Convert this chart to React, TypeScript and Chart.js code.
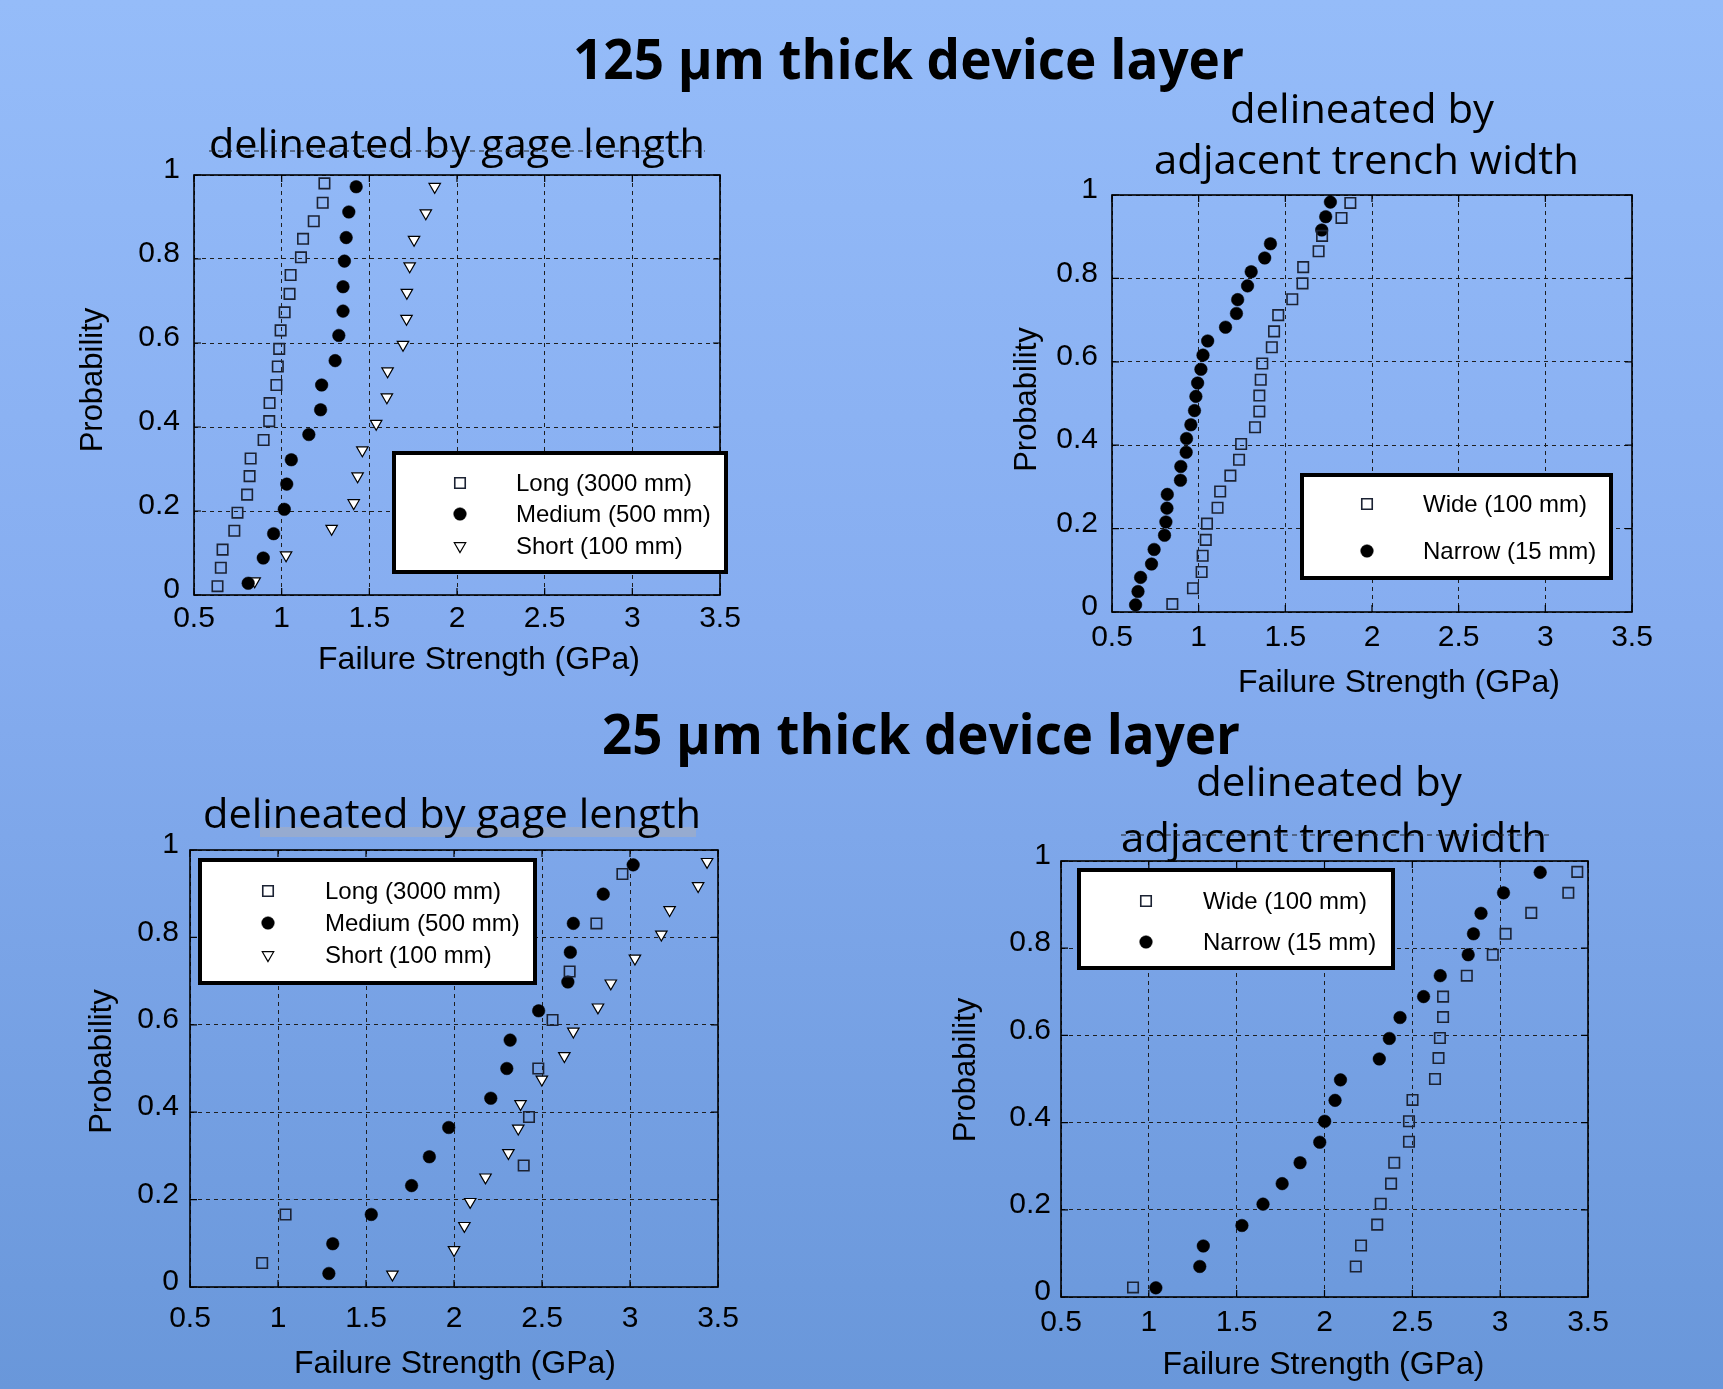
import React, { useEffect, useRef } from 'react';
import { Chart, registerables } from 'chart.js';

Chart.register(...registerables);

const AXIS_FONT = '"Liberation Sans", Arial, Helvetica, sans-serif';
const TITLE_FONT = '"Open Sans", "Noto Sans", sans-serif';

// ---------- tick labels & axis titles ----------
const xTickLabels = ['0.5', '1', '1.5', '2', '2.5', '3', '3.5'];
const yTickLabels = ['0', '0.2', '0.4', '0.6', '0.8', '1'];
const xAxisTitle = 'Failure Strength (GPa)';
const yAxisTitle = 'Probability';

// ---------- 125 um, by gage length ----------
const p1LongX = [1.244, 1.234, 1.183, 1.122, 1.110, 1.051, 1.045, 1.017, 0.994, 0.986, 0.978, 0.970, 0.931, 0.929, 0.897, 0.823, 0.817, 0.803, 0.748, 0.730, 0.663, 0.653, 0.634];
const p1LongY = [0.980, 0.934, 0.890, 0.848, 0.804, 0.762, 0.717, 0.673, 0.630, 0.586, 0.544, 0.500, 0.457, 0.414, 0.369, 0.325, 0.283, 0.239, 0.196, 0.153, 0.108, 0.065, 0.021];
const p1MediumX = [1.425, 1.383, 1.368, 1.358, 1.350, 1.350, 1.326, 1.305, 1.228, 1.222, 1.155, 1.055, 1.029, 1.015, 0.954, 0.895, 0.809];
const p1MediumY = [0.972, 0.912, 0.851, 0.795, 0.734, 0.676, 0.618, 0.558, 0.500, 0.441, 0.382, 0.322, 0.264, 0.204, 0.146, 0.088, 0.028];
const p1ShortX = [1.873, 1.822, 1.755, 1.730, 1.714, 1.712, 1.692, 1.604, 1.600, 1.539, 1.460, 1.433, 1.411, 1.285, 1.025, 0.846];
const p1ShortY = [0.972, 0.909, 0.846, 0.783, 0.720, 0.658, 0.596, 0.533, 0.471, 0.408, 0.345, 0.283, 0.219, 0.158, 0.095, 0.033];

// ---------- 125 um, by trench width ----------
const p2WideX = [1.875, 1.824, 1.712, 1.692, 1.603, 1.599, 1.540, 1.459, 1.435, 1.422, 1.367, 1.358, 1.350, 1.350, 1.325, 1.245, 1.233, 1.183, 1.124, 1.109, 1.048, 1.041, 1.023, 1.017, 0.967, 0.848];
const p2WideY = [0.981, 0.945, 0.902, 0.865, 0.827, 0.788, 0.750, 0.712, 0.673, 0.635, 0.596, 0.557, 0.519, 0.481, 0.443, 0.403, 0.365, 0.327, 0.289, 0.250, 0.212, 0.173, 0.135, 0.096, 0.057, 0.019];
const p2NarrowX = [1.760, 1.733, 1.710, 1.414, 1.381, 1.303, 1.282, 1.225, 1.218, 1.155, 1.052, 1.025, 1.013, 0.994, 0.984, 0.976, 0.955, 0.930, 0.928, 0.897, 0.895, 0.819, 0.817, 0.811, 0.803, 0.743, 0.728, 0.665, 0.650, 0.636];
const p2NarrowY = [0.983, 0.948, 0.916, 0.883, 0.849, 0.816, 0.782, 0.749, 0.716, 0.683, 0.650, 0.616, 0.582, 0.549, 0.517, 0.483, 0.449, 0.416, 0.383, 0.349, 0.316, 0.282, 0.249, 0.216, 0.184, 0.150, 0.115, 0.083, 0.049, 0.017];

// ---------- 25 um, by gage length ----------
const p3LongX = [2.957, 2.809, 2.657, 2.560, 2.479, 2.426, 2.396, 1.043, 0.910];
const p3LongY = [0.945, 0.832, 0.722, 0.611, 0.500, 0.389, 0.278, 0.166, 0.055];
const p3MediumX = [3.018, 2.848, 2.678, 2.661, 2.647, 2.481, 2.319, 2.300, 2.209, 1.970, 1.860, 1.759, 1.530, 1.311, 1.289];
const p3MediumY = [0.966, 0.899, 0.832, 0.766, 0.698, 0.632, 0.565, 0.500, 0.432, 0.365, 0.298, 0.232, 0.166, 0.099, 0.031];
const p3ShortX = [3.438, 3.387, 3.225, 3.178, 3.028, 2.891, 2.818, 2.678, 2.627, 2.499, 2.378, 2.365, 2.309, 2.179, 2.092, 2.059, 2.000, 1.650];
const p3ShortY = [0.973, 0.918, 0.863, 0.807, 0.752, 0.695, 0.640, 0.585, 0.529, 0.475, 0.419, 0.363, 0.307, 0.251, 0.195, 0.140, 0.085, 0.029];

// ---------- 25 um, by trench width ----------
const p4WideX = [3.439, 3.388, 3.177, 3.031, 2.958, 2.810, 2.675, 2.675, 2.657, 2.649, 2.629, 2.501, 2.481, 2.481, 2.397, 2.379, 2.320, 2.300, 2.208, 2.178, 0.910];
const p4WideY = [0.975, 0.927, 0.881, 0.833, 0.785, 0.737, 0.689, 0.642, 0.594, 0.548, 0.500, 0.452, 0.403, 0.356, 0.308, 0.260, 0.214, 0.166, 0.118, 0.070, 0.022];
const p4NarrowX = [3.228, 3.019, 2.891, 2.848, 2.818, 2.659, 2.564, 2.430, 2.369, 2.312, 2.091, 2.060, 2.001, 1.973, 1.861, 1.759, 1.650, 1.530, 1.310, 1.290, 1.040];
const p4NarrowY = [0.974, 0.927, 0.880, 0.833, 0.785, 0.737, 0.689, 0.641, 0.593, 0.546, 0.498, 0.451, 0.403, 0.355, 0.308, 0.260, 0.213, 0.164, 0.117, 0.070, 0.021];

// ---------- labels ----------
const gageLabels = ['Long (3000 mm)', 'Medium (500 mm)', 'Short (100 mm)'];
const trenchLabels = ['Wide (100 mm)', 'Narrow (15 mm)'];

type Kind = 'square' | 'circle' | 'triangle';
interface SeriesDef { label: string; kind: Kind; xs: number[]; ys: number[] }

const MARK: Record<Kind, any> = {
  square: { pointStyle: 'rect', pointRadius: 7.4, pointBackgroundColor: 'rgba(0,0,0,0)', pointBorderColor: '#1b2233', pointBorderWidth: 1.6, pointRotation: 0 },
  circle: { pointStyle: 'circle', pointRadius: 6.3, pointBackgroundColor: '#000', pointBorderColor: '#000', pointBorderWidth: 0.5, pointRotation: 0 },
  triangle: { pointStyle: 'triangle', pointRadius: 6.6, pointBackgroundColor: '#fff', pointBorderColor: '#000', pointBorderWidth: 1.2, pointRotation: 180 },
};

interface Geom {
  L: number; T: number; R: number; B: number;
  padL: number; padT: number; padR: number; padB: number;
  yTitleCenter: number; yTitleDy: number; xTitleMiddle: number; xTitleDx: number;
  xTickPad: number; yTickPad: number;
  legend: { x: number; y: number; w: number; h: number; markerX: number; textX: number; rows: number[] };
}

interface PanelDef { id: string; series: SeriesDef[]; geom: Geom }

const panels: PanelDef[] = [
  {
    id: 'p1',
    series: [
      { label: gageLabels[0], kind: 'square', xs: p1LongX, ys: p1LongY },
      { label: gageLabels[1], kind: 'circle', xs: p1MediumX, ys: p1MediumY },
      { label: gageLabels[2], kind: 'triangle', xs: p1ShortX, ys: p1ShortY },
    ],
    geom: {
      L: 194, T: 173, R: 720, B: 595, padL: 120, padT: 30, padR: 40, padB: 100,
      yTitleCenter: 93.5, yTitleDy: -5, xTitleMiddle: 660, xTitleDx: 22, xTickPad: 6, yTickPad: 14,
      legend: { x: 394, y: 453, w: 332, h: 119, markerX: 460, textX: 516, rows: [483, 514, 546] },
    },
  },
  {
    id: 'p2',
    series: [
      { label: trenchLabels[0], kind: 'square', xs: p2WideX, ys: p2WideY },
      { label: trenchLabels[1], kind: 'circle', xs: p2NarrowX, ys: p2NarrowY },
    ],
    geom: {
      L: 1112, T: 193, R: 1632, B: 612, padL: 120, padT: 30, padR: 40, padB: 100,
      yTitleCenter: 1027, yTitleDy: -4, xTitleMiddle: 683, xTitleDx: 27, xTickPad: 8, yTickPad: 14,
      legend: { x: 1302, y: 475, w: 309, h: 103, markerX: 1367, textX: 1423, rows: [504, 551] },
    },
  },
  {
    id: 'p3',
    series: [
      { label: gageLabels[0], kind: 'square', xs: p3LongX, ys: p3LongY },
      { label: gageLabels[1], kind: 'circle', xs: p3MediumX, ys: p3MediumY },
      { label: gageLabels[2], kind: 'triangle', xs: p3ShortX, ys: p3ShortY },
    ],
    geom: {
      L: 190, T: 850, R: 718, B: 1287, padL: 120, padT: 30, padR: 40, padB: 100,
      yTitleCenter: 102, yTitleDy: -7, xTitleMiddle: 1364, xTitleDx: 1, xTickPad: 14, yTickPad: 11,
      legend: { x: 200, y: 860, w: 335, h: 123, markerX: 268, textX: 325, rows: [891, 923, 955] },
    },
  },
  {
    id: 'p4',
    series: [
      { label: trenchLabels[0], kind: 'square', xs: p4WideX, ys: p4WideY },
      { label: trenchLabels[1], kind: 'circle', xs: p4NarrowX, ys: p4NarrowY },
    ],
    geom: {
      L: 1061, T: 861, R: 1588, B: 1297, padL: 120, padT: 30, padR: 40, padB: 92,
      yTitleCenter: 966, yTitleDy: -9, xTitleMiddle: 1365, xTitleDx: -1, xTickPad: 8, yTickPad: 10,
      legend: { x: 1079, y: 870, w: 314, h: 98, markerX: 1146, textX: 1203, rows: [901, 942] },
    },
  },
];

function drawMarker(ctx: CanvasRenderingContext2D, kind: Kind, x: number, y: number) {
  const m = MARK[kind];
  const r = m.pointRadius;
  ctx.save();
  ctx.setLineDash([]);
  ctx.lineWidth = m.pointBorderWidth;
  ctx.strokeStyle = m.pointBorderColor;
  ctx.fillStyle = m.pointBackgroundColor;
  ctx.beginPath();
  if (kind === 'square') {
    const s = r * Math.SQRT1_2;
    ctx.rect(x - s, y - s, 2 * s, 2 * s);
  } else if (kind === 'circle') {
    ctx.arc(x, y, r, 0, Math.PI * 2);
  } else {
    const h = Math.sin(Math.PI / 3) * r;
    ctx.moveTo(x, y + r);
    ctx.lineTo(x - h, y - r / 2);
    ctx.lineTo(x + h, y - r / 2);
    ctx.closePath();
  }
  ctx.fill();
  ctx.stroke();
  ctx.restore();
}

const framePlugin = {
  id: 'frameTicks',
  beforeDatasetsDraw(chart: any) {
    const { ctx, chartArea: a, scales } = chart;
    ctx.save();
    ctx.setLineDash([]);
    ctx.strokeStyle = '#000';
    ctx.lineWidth = 1.2;
    const tl = 7;
    ctx.beginPath();
    scales.x.ticks.forEach((t: any) => {
      const px = scales.x.getPixelForValue(t.value);
      ctx.moveTo(px, a.top); ctx.lineTo(px, a.top + tl);
      ctx.moveTo(px, a.bottom); ctx.lineTo(px, a.bottom - tl);
    });
    scales.y.ticks.forEach((t: any) => {
      const py = scales.y.getPixelForValue(t.value);
      ctx.moveTo(a.left, py); ctx.lineTo(a.left + tl, py);
      ctx.moveTo(a.right, py); ctx.lineTo(a.right - tl, py);
    });
    ctx.stroke();
    ctx.lineWidth = 1.6;
    ctx.strokeRect(a.left, a.top, a.right - a.left, a.bottom - a.top);
    ctx.restore();
  },
};

function makeAxisTitlePlugin(panel: PanelDef, offX: number, offY: number) {
  const g = panel.geom;
  return {
    id: 'axisTitles',
    afterDraw(chart: any) {
      const ctx: CanvasRenderingContext2D = chart.ctx;
      const a = chart.chartArea;
      ctx.save();
      ctx.fillStyle = '#000';
      ctx.textAlign = 'center';
      ctx.textBaseline = 'middle';
      ctx.font = `32px ${AXIS_FONT}`;
      ctx.fillText(xAxisTitle, (a.left + a.right) / 2 + g.xTitleDx, g.xTitleMiddle - offY);
      ctx.translate(g.yTitleCenter - offX, (a.top + a.bottom) / 2 + g.yTitleDy);
      ctx.rotate(-Math.PI / 2);
      ctx.font = `31px ${AXIS_FONT}`;
      ctx.fillText(yAxisTitle, 0, 0);
      ctx.restore();
    },
  };
}

function makeLegendPlugin(panel: PanelDef, offX: number, offY: number) {
  return {
    id: 'boxLegend',
    afterDraw(chart: any) {
      const ctx: CanvasRenderingContext2D = chart.ctx;
      const lg = panel.geom.legend;
      ctx.save();
      ctx.setLineDash([]);
      ctx.fillStyle = '#fff';
      ctx.fillRect(lg.x - offX, lg.y - offY, lg.w, lg.h);
      ctx.lineWidth = 4;
      ctx.strokeStyle = '#000';
      ctx.strokeRect(lg.x - offX, lg.y - offY, lg.w, lg.h);
      panel.series.forEach((s, i) => {
        const y = lg.rows[i] - offY;
        drawMarker(ctx, s.kind, lg.markerX - offX, y);
        ctx.fillStyle = '#000';
        ctx.font = `24px ${AXIS_FONT}`;
        ctx.textAlign = 'left';
        ctx.textBaseline = 'middle';
        ctx.fillText(s.label, lg.textX - offX, y + 1);
      });
      ctx.restore();
    },
  };
}

function Panel({ panel }: { panel: PanelDef }) {
  const ref = useRef<HTMLCanvasElement | null>(null);
  const g = panel.geom;
  const left = g.L - g.padL;
  const top = g.T - g.padT;
  const width = g.padL + (g.R - g.L) + g.padR;
  const height = g.padT + (g.B - g.T) + g.padB;

  useEffect(() => {
    if (!ref.current) return;
    const chart = new Chart(ref.current, {
      type: 'scatter',
      data: {
        datasets: panel.series.map((s) => ({
          label: s.label,
          data: s.xs.map((x, i) => ({ x, y: s.ys[i] })),
          showLine: false,
          ...MARK[s.kind],
          pointHoverRadius: MARK[s.kind].pointRadius,
        })),
      },
      options: {
        responsive: false,
        animation: false,
        events: [],
        layout: { padding: { left: 0, top: g.padT, right: g.padR, bottom: 0 } },
        plugins: { legend: { display: false }, tooltip: { enabled: false }, title: { display: false } },
        scales: {
          x: {
            type: 'linear',
            min: 0.5,
            max: 3.5,
            afterFit: (s: any) => { s.height = g.padB; },
            afterBuildTicks: (s: any) => { s.ticks = xTickLabels.map((t) => ({ value: parseFloat(t) })); },
            ticks: {
              callback: (_v: any, i: number) => xTickLabels[i],
              color: '#000',
              font: { family: AXIS_FONT, size: 30 },
              padding: g.xTickPad,
              maxRotation: 0,
              autoSkip: false,
            },
            grid: { color: '#1e1e1e', lineWidth: 1, drawTicks: false },
            border: { display: false, dash: [4, 4] },
            title: { display: false },
          },
          y: {
            type: 'linear',
            min: 0,
            max: 1,
            afterFit: (s: any) => { s.width = g.padL; },
            afterBuildTicks: (s: any) => { s.ticks = yTickLabels.map((t) => ({ value: parseFloat(t) })); },
            ticks: {
              callback: (_v: any, i: number) => yTickLabels[i],
              color: '#000',
              font: { family: AXIS_FONT, size: 30 },
              padding: g.yTickPad,
              labelOffset: -5,
              autoSkip: false,
            },
            grid: { color: '#1e1e1e', lineWidth: 1, drawTicks: false },
            border: { display: false, dash: [4, 4] },
            title: { display: false },
          },
        },
      } as any,
      plugins: [framePlugin, makeAxisTitlePlugin(panel, left, top), makeLegendPlugin(panel, left, top)],
    });
    return () => chart.destroy();
  }, []);

  return (
    <canvas
      ref={ref}
      width={width}
      height={height}
      style={{ position: 'absolute', left, top, width, height }}
    />
  );
}

// ---------- titles ----------
const mainTitles = [
  { text: '125 µm thick device layer', x: 573, y: 79, len: 671 },
  { text: '25 µm thick device layer', x: 602, y: 754, len: 638 },
];
const subTitles = [
  { text: 'delineated by gage length', x: 209, y: 158, len: 496 },
  { text: 'delineated by', x: 1230, y: 123, len: 264 },
  { text: 'adjacent trench width', x: 1154, y: 174, len: 425 },
  { text: 'delineated by gage length', x: 203, y: 828, len: 498 },
  { text: 'delineated by', x: 1196, y: 796, len: 266 },
  { text: 'adjacent trench width', x: 1121, y: 852, len: 426 },
];

export default function App() {
  useEffect(() => {
    document.body.style.margin = '0';
    document.body.style.overflow = 'hidden';
  }, []);

  return (
    <div
      style={{
        position: 'relative',
        width: 1723,
        height: 1389,
        overflow: 'hidden',
        background: 'linear-gradient(180deg, #95bcf9 0%, #86adf0 45%, #6997da 100%)',
      }}
    >
      {panels.map((p) => (
        <Panel key={p.id} panel={p} />
      ))}
      <svg
        width={1723}
        height={1389}
        style={{ position: 'absolute', left: 0, top: 0, pointerEvents: 'none' }}
      >
        <rect x={260} y={827} width={436} height={10} fill="rgba(170,175,185,0.55)" />
        {mainTitles.map((t, i) => (
          <text
            key={'m' + i}
            x={t.x}
            y={t.y}
            textLength={t.len}
            lengthAdjust="spacingAndGlyphs"
            fontFamily={TITLE_FONT}
            fontWeight={700}
            fontSize={56}
            fill="#000"
          >
            {t.text}
          </text>
        ))}
        {subTitles.map((t, i) => (
          <text
            key={'s' + i}
            x={t.x}
            y={t.y}
            textLength={t.len}
            lengthAdjust="spacingAndGlyphs"
            fontFamily={TITLE_FONT}
            fontWeight={400}
            fontSize={41}
            fill="#000"
          >
            {t.text}
          </text>
        ))}
        <line x1={209} y1={151} x2={705} y2={151} stroke="#222" strokeWidth={1} strokeDasharray="5 4" />
        <line x1={1121} y1={835} x2={1549} y2={835} stroke="#222" strokeWidth={1} strokeDasharray="5 4" />
      </svg>
    </div>
  );
}
